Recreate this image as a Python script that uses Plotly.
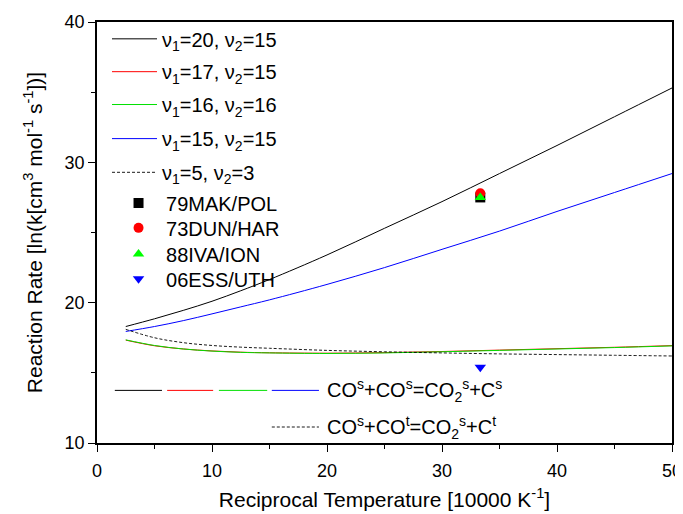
import plotly.graph_objects as go

# ---- data ----
x = [2.5, 5, 7.5, 10, 12.5, 15, 20, 25, 30, 35, 40, 45, 50]
nu20_15 = [18.3, 18.85, 19.45, 20.1, 20.85, 21.65, 23.4, 25.3, 27.2, 29.2, 31.2, 33.25, 35.3]
nu17_15 = [17.33, 16.93, 16.70, 16.56, 16.47, 16.43, 16.40, 16.44, 16.52, 16.62, 16.72, 16.82, 16.94]
nu16_16 = [17.35, 16.95, 16.70, 16.55, 16.46, 16.42, 16.38, 16.42, 16.50, 16.60, 16.70, 16.80, 16.92]
nu15_15 = [17.95, 18.3, 18.72, 19.2, 19.7, 20.2, 21.3, 22.5, 23.8, 25.1, 26.5, 27.85, 29.2]
nu5_3 = [18.1, 17.5, 17.15, 16.95, 16.83, 16.75, 16.6, 16.5, 16.42, 16.35, 16.3, 16.25, 16.2]

exp_x = [33.33]
mak_pol = [27.5]
dun_har = [27.8]
iva_ion = [27.5]
ess_uth = [15.4]

line_names = ["ν<sub>1</sub>=20, ν<sub>2</sub>=15", "ν<sub>1</sub>=17, ν<sub>2</sub>=15",
              "ν<sub>1</sub>=16, ν<sub>2</sub>=16", "ν<sub>1</sub>=15, ν<sub>2</sub>=15",
              "ν<sub>1</sub>=5, ν<sub>2</sub>=3"]
exp_names = ["79MAK/POL", "73DUN/HAR", "88IVA/ION", "06ESS/UTH"]

FONT = "Liberation Sans, Arial, sans-serif"

# legend row centres (paper fraction of plot height)
line_rows = [0.960, 0.882, 0.804, 0.723, 0.643]
exp_rows = [0.570, 0.511, 0.449, 0.390]
LEG_X = 0.0174
LEG_X_EXP = 0.0244

fig = go.Figure()
series = [nu20_15, nu17_15, nu16_16, nu15_15, nu5_3]
colors = ["black", "#ff0000", "#00e000", "#0000ff", "black"]
dashes = ["solid", "solid", "solid", "solid", "dash"]
legends = {}
k = 2
for ys, nm, c, d, ry in zip(series, line_names, colors, dashes, line_rows):
    lname = f"legend{k}"
    fig.add_trace(go.Scatter(x=x, y=ys, mode="lines", name=nm, line_shape="spline",
                             line=dict(color=c, width=1 if d == "solid" else 0.9,
                                       dash="3px,2px" if d == "dash" else "solid"),
                             legend=lname))
    legends[lname] = dict(x=LEG_X, y=ry, xanchor="left", yanchor="middle",
                          bgcolor="rgba(0,0,0,0)", font=dict(family=FONT, size=20),
                          itemwidth=45)
    k += 1

exp_sets = [mak_pol, dun_har, iva_ion, ess_uth]
symbols = ["square", "circle", "triangle-up", "triangle-down"]
mcolors = ["black", "#ff0000", "#00ff00", "#0000ff"]
for ys, nm, s, c, ry in zip(exp_sets, exp_names, symbols, mcolors, exp_rows):
    lname = f"legend{k}"
    fig.add_trace(go.Scatter(x=exp_x, y=ys, mode="markers", name=nm,
                             marker=dict(symbol=s, color=c, size=10, line=dict(width=0)),
                             legend=lname))
    legends[lname] = dict(x=LEG_X_EXP, y=ry, xanchor="left", yanchor="middle",
                          bgcolor="rgba(0,0,0,0)", font=dict(family=FONT, size=20),
                          itemwidth=45)
    k += 1

# key lines for reaction labels (paper coords)
key_y1 = 0.125
key_y2 = 0.038
for (x0, x1), c in zip([(0.031, 0.113), (0.122, 0.202), (0.212, 0.296), (0.304, 0.386)],
                       ["black", "#ff0000", "#00e000", "#0000ff"]):
    fig.add_shape(type="line", xref="paper", yref="paper", x0=x0, x1=x1, y0=key_y1, y1=key_y1,
                  line=dict(color=c, width=1))
fig.add_shape(type="line", xref="paper", yref="paper", x0=0.304, x1=0.386, y0=key_y2, y1=key_y2,
              line=dict(color="black", width=0.9, dash="3px,2px"))
fig.add_annotation(xref="paper", yref="paper", x=0.396, y=key_y1, xanchor="left", yanchor="middle",
                   text="CO<sup>s</sup>+CO<sup>s</sup>=CO<sub>2</sub><sup>s</sup>+C<sup>s</sup>",
                   showarrow=False, font=dict(family=FONT, size=20, color="black"))
fig.add_annotation(xref="paper", yref="paper", x=0.396, y=key_y2, xanchor="left", yanchor="middle",
                   text="CO<sup>s</sup>+CO<sup>t</sup>=CO<sub>2</sub><sup>s</sup>+C<sup>t</sup>",
                   showarrow=False, font=dict(family=FONT, size=20, color="black"))

axis_common = dict(showline=True, linecolor="black", linewidth=1.5, mirror=True,
                   ticks="outside", ticklen=7, tickwidth=1.2, tickcolor="black",
                   showgrid=False, zeroline=False, automargin=False,
                   tickfont=dict(family=FONT, size=18, color="black"))

fig.update_layout(
    width=675, height=506,
    margin=dict(l=89, r=11, t=12, b=71),
    plot_bgcolor="white", paper_bgcolor="white",
    font=dict(family=FONT, color="black"),
    showlegend=True,
    xaxis=dict(range=[0, 50], dtick=10, ticklabelstandoff=4,
               title=dict(text="Reciprocal Temperature [10000 K<sup>-1</sup>]",
                          font=dict(family=FONT, size=21), standoff=12),
               **axis_common),
    yaxis=dict(range=[10, 40], dtick=10,
               title=dict(text="Reaction Rate [ln(k[cm<sup>3</sup> mol<sup>-1</sup> s<sup>-1</sup>])]",
                          font=dict(family=FONT, size=21), standoff=16),
               **axis_common),
    **legends,
)
fig.update_xaxes(minor=dict(ticks="outside", ticklen=4, tickwidth=1.2, tickcolor="black", dtick=5))
fig.update_yaxes(minor=dict(ticks="outside", ticklen=4, tickwidth=1.2, tickcolor="black", dtick=5))

fig.write_html("out.html")
